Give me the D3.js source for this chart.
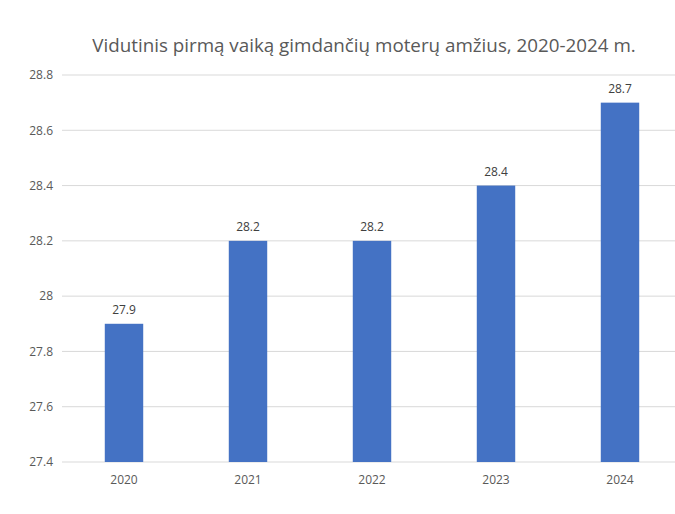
<!DOCTYPE html>
<html>
<head>
<meta charset="utf-8">
<script src="https://cdn.jsdelivr.net/npm/d3@7"></script>
<style>
  body { margin: 0; background: #fff; }
  text { font-family: "Open Sans", "Noto Sans", sans-serif; }
</style>
</head>
<body>
<svg id="graph"></svg>
<script>
// chart data
var years = ["2020", "2021", "2022", "2023", "2024"];
var ages = [27.9, 28.2, 28.2, 28.4, 28.7];
var yTicks = [27.4, 27.6, 27.8, 28, 28.2, 28.4, 28.6, 28.8];
var title = "Vidutinis pirmą vaiką gimdančių moterų amžius, 2020-2024 m.";

var svg = d3.select("#graph")
    .attr("width", 675)
    .attr("height", 514);

// plot area runs past the right edge, like the original
var margin = {top: 75, left: 62},
    width = 620,
    height = 387;

var x = d3.scaleBand().domain(years).range([0, width])
    .paddingInner(0.69).paddingOuter(0.345);
var y = d3.scaleLinear().domain([27.4, 28.8]).range([height, 0]);

// title is centred on the full (cropped) chart, not the window
svg.append("text")
    .attr("x", 364)
    .attr("y", 52)
    .attr("text-anchor", "middle")
    .attr("font-size", 18.8)
    .attr("fill", "#595959")
    .text(title);

var g = svg.append("g")
    .attr("transform", "translate(" + margin.left + "," + margin.top + ")");

// gridlines
g.selectAll(".grid")
  .data(yTicks)
  .enter().append("line")
    .attr("x1", 0)
    .attr("x2", width)
    .attr("y1", function(d) { return y(d); })
    .attr("y2", function(d) { return y(d); })
    .attr("stroke", "#d9d9d9")
    .attr("stroke-width", 1);

// y axis labels
var yAxis = g.append("g")
    .call(d3.axisLeft(y).tickValues(yTicks).tickSize(0).tickPadding(9)
      .tickFormat(function(d) { return String(+d.toFixed(1)); }));
yAxis.select(".domain").remove();
yAxis.selectAll("text").attr("fill", "#595959").attr("font-size", 12)
    .attr("font-family", "\"Open Sans\", sans-serif");

// x axis labels
var xAxis = g.append("g")
    .attr("transform", "translate(0," + height + ")")
    .call(d3.axisBottom(x).tickSize(0).tickPadding(13));
xAxis.select(".domain").remove();
xAxis.selectAll("text").attr("fill", "#595959").attr("font-size", 12)
    .attr("font-family", "\"Open Sans\", sans-serif");

// bars
g.selectAll(".bar")
  .data(ages)
  .enter().append("rect")
    .attr("class", "bar")
    .attr("x", function(d, i) { return x(years[i]); })
    .attr("y", function(d) { return y(d); })
    .attr("width", x.bandwidth())
    .attr("height", function(d) { return height - y(d); })
    .attr("fill", "#4472c4");

// value labels
g.selectAll(".label")
  .data(ages)
  .enter().append("text")
    .attr("x", function(d, i) { return x(years[i]) + x.bandwidth() / 2; })
    .attr("y", function(d) { return y(d) - 10; })
    .attr("text-anchor", "middle")
    .attr("font-size", 12)
    .attr("fill", "#404040")
    .text(function(d) { return d.toFixed(1); });
</script>
</body>
</html>
